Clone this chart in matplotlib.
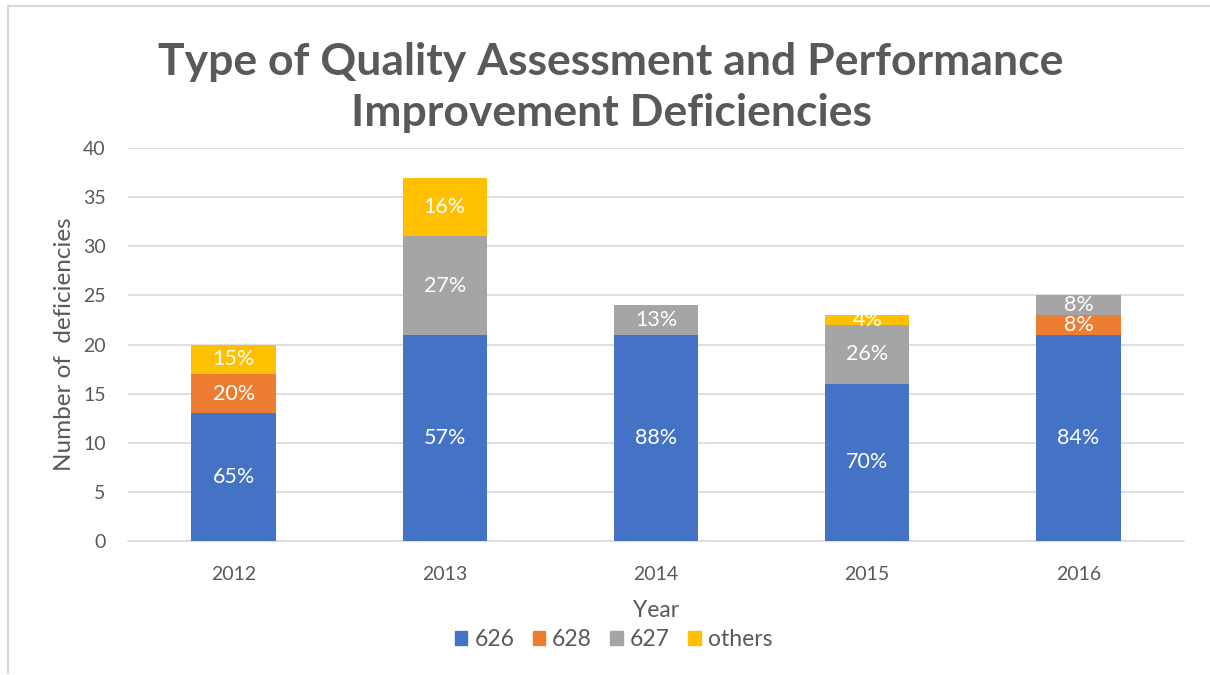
import matplotlib.pyplot as plt
import matplotlib.patches as mpatches
from matplotlib.lines import Line2D
import numpy as np

years = ['2012', '2013', '2014', '2015', '2016']
series = ['626', '628', '627', 'others']
colors = ['#4472C4', '#ED7D31', '#A5A5A5', '#FFC000']

v626 = [13, 21, 21, 16, 21]
v628 = [4, 0, 0, 0, 2]
v627 = [0, 10, 3, 6, 2]
vothers = [3, 6, 0, 1, 0]

l626 = ['65%', '57%', '88%', '70%', '84%']
l628 = ['20%', '', '', '', '8%']
l627 = ['', '27%', '13%', '26%', '8%']
lothers = ['15%', '16%', '', '4%', '']

values = [v626, v628, v627, vothers]
labels = [l626, l628, l627, lothers]

plt.rcParams['font.family'] = ['Lato', 'DejaVu Sans']
grey = '#595959'

fig = plt.figure(figsize=(12.1, 6.75), dpi=100)
ax = fig.add_axes([0.1058, 0.1985, 0.8727, 0.5822])

x = np.arange(len(years))
bottom = np.zeros(len(years))
for vals, labs, col in zip(values, labels, colors):
    vals = np.array(vals, dtype=float)
    ax.bar(x, vals, 0.4, bottom=bottom, color=col, zorder=3)
    for xi, b, v, t in zip(x, bottom, vals, labs):
        if t:
            ax.text(xi, b + v / 2, t, ha='center', va='center', color='white',
                    fontsize=15.5, zorder=4)
    bottom += vals

ax.set_xlim(-0.5, 4.5)
ax.set_ylim(0, 40)
ax.set_yticks(range(0, 41, 5))
ax.set_xticks(x)
ax.set_xticklabels(years)
ax.yaxis.grid(True, color='#D9D9D9', linewidth=1.2, zorder=0)
for s in ['top', 'right', 'left']:
    ax.spines[s].set_visible(False)
ax.spines['bottom'].set_color('#D9D9D9')
ax.spines['bottom'].set_linewidth(1.2)
ax.tick_params(axis='both', length=0, labelsize=14, colors=grey)
ax.tick_params(axis='x', pad=18)
ax.tick_params(axis='y', pad=16)

ax.set_xlabel('Year', fontsize=16.5, color=grey, labelpad=12)
ax.set_ylabel('Number of  deficiencies', fontsize=17.5, color=grey, labelpad=6)

fig.text(0.505, 0.870, 'Type of Quality Assessment and Performance\nImprovement Deficiencies',
         ha='center', va='center', fontsize=32, fontweight='bold', color=grey,
         linespacing=1.32)

handles = [mpatches.Patch(color=c, label=s) for s, c in zip(series, colors)]
fig.legend(handles=handles, loc='center', bbox_to_anchor=(0.507, 0.052), ncol=4,
           frameon=False, fontsize=16.5, labelcolor=grey, handlelength=0.55,
           handleheight=0.55, handletextpad=0.3, columnspacing=0.8)

# outer frame, only left and top edges are visible in the original
fig.add_artist(Line2D([8 / 1210, 8 / 1210], [2 / 675, 1 - 6 / 675],
                      transform=fig.transFigure, color='#D9D9D9', linewidth=1.5))
fig.add_artist(Line2D([8 / 1210, 1], [1 - 6 / 675, 1 - 6 / 675],
                      transform=fig.transFigure, color='#D9D9D9', linewidth=1.5))

fig.savefig('out.png', dpi=100)
